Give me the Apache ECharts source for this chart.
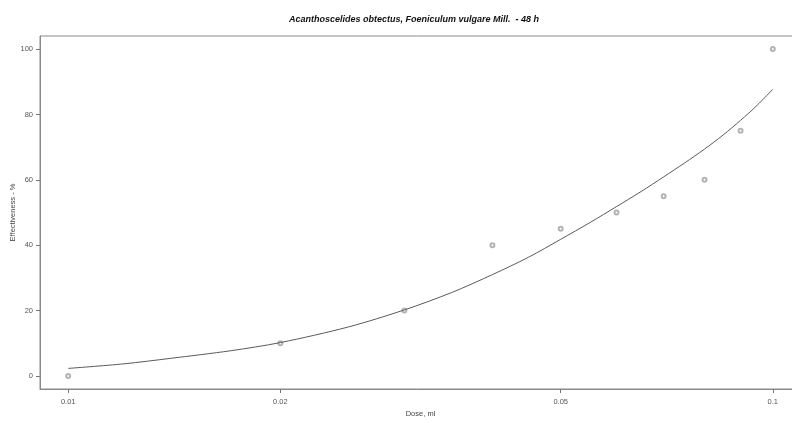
<!DOCTYPE html>
<html>
<head>
<meta charset="utf-8">
<script src="https://cdn.jsdelivr.net/npm/echarts@6/dist/echarts.min.js"></script>
<style>
  html, body { margin: 0; padding: 0; background: #fff; }
  #chart { width: 792px; height: 423px; }
</style>
</head>
<body>
<div id="chart"></div>
<script>
// observed points
const doses = [0.01, 0.02, 0.03, 0.04, 0.05, 0.06, 0.07, 0.08, 0.09, 0.1]
const effect = [0, 10, 20, 40, 45, 50, 55, 60, 75, 100]

// fitted curve
const fitDoses = [0.01, 0.012, 0.014, 0.017, 0.02, 0.025, 0.03, 0.035, 0.04, 0.045, 0.05, 0.055, 0.06, 0.065, 0.07, 0.075, 0.08, 0.085, 0.09, 0.095, 0.1]
const fitEffect = [2.3, 3.7, 5.4, 7.7, 10.2, 15.0, 20.2, 25.5, 31.0, 36.3, 41.8, 46.9, 51.8, 56.4, 60.9, 65.2, 69.4, 73.7, 78.2, 82.8, 87.7]

const xTicks = [0.01, 0.02, 0.05, 0.1]
const yTicks = [0, 20, 40, 60, 80, 100]

const lg = (v) => Math.log10(v) // x axis is log10(dose)

const chart = echarts.init(document.getElementById('chart'))
const font = 'Liberation Sans, Arial, sans-serif'
const boxColor = '#8a8a8a'

const option = {
  animation: false,
  backgroundColor: '#fff',
  title: {
    text: 'Acanthoscelides obtectus, Foeniculum vulgare Mill.  - 48 h',
    left: 284,
    top: 10,
    textStyle: {
      fontFamily: font,
      fontSize: 9,
      fontStyle: 'italic',
      fontWeight: 'bold',
      color: '#111'
    }
  },
  grid: {
    left: 40,
    right: -9,
    top: 36,
    bottom: 34,
    outerBoundsMode: 'none',
    containLabel: false,
    show: true,
    borderColor: boxColor,
    borderWidth: 1
  },
  xAxis: {
    type: 'value',
    min: -2.04,
    max: -0.96,
    name: 'Dose, ml',
    nameLocation: 'middle',
    nameGap: 21,
    nameMoveOverlap: false,
    nameTextStyle: { fontFamily: font, fontSize: 7.5, color: '#444' },
    axisLine: { show: true, onZero: false, lineStyle: { color: boxColor } },
    splitLine: { show: false },
    axisTick: {
      show: true,
      length: 4,
      customValues: xTicks.map(lg),
      lineStyle: { color: '#777' }
    },
    axisLabel: {
      customValues: xTicks.map(lg),
      margin: 9,
      fontFamily: font,
      fontSize: 7.5,
      color: '#555',
      formatter: (v) => String(parseFloat(Math.pow(10, v).toPrecision(6)))
    }
  },
  yAxis: {
    type: 'value',
    min: -4,
    max: 104,
    name: 'Effectiveness - %',
    nameLocation: 'middle',
    nameGap: 23,
    nameMoveOverlap: false,
    nameRotate: 90,
    nameTextStyle: { fontFamily: font, fontSize: 7.5, color: '#444' },
    axisLine: { show: true, onZero: false, lineStyle: { color: boxColor } },
    splitLine: { show: false },
    axisTick: {
      show: true,
      length: 4,
      customValues: yTicks,
      lineStyle: { color: '#777' }
    },
    axisLabel: {
      customValues: yTicks,
      margin: 7,
      fontFamily: font,
      fontSize: 7.5,
      color: '#555'
    }
  },
  series: [
    {
      name: 'fit',
      type: 'line',
      data: fitDoses.map((d, i) => [lg(d), fitEffect[i]]),
      showSymbol: false,
      smooth: 0.3,
      lineStyle: { color: '#5a5a5a', width: 1 }
    },
    {
      name: 'observed',
      type: 'scatter',
      data: doses.map((d, i) => [lg(d), effect[i]]),
      symbol: 'emptyCircle',
      symbolSize: 4,
      itemStyle: { color: '#a0a0a0', borderWidth: 0.7 }
    }
  ]
}
chart.setOption(option)
</script>
</body>
</html>
